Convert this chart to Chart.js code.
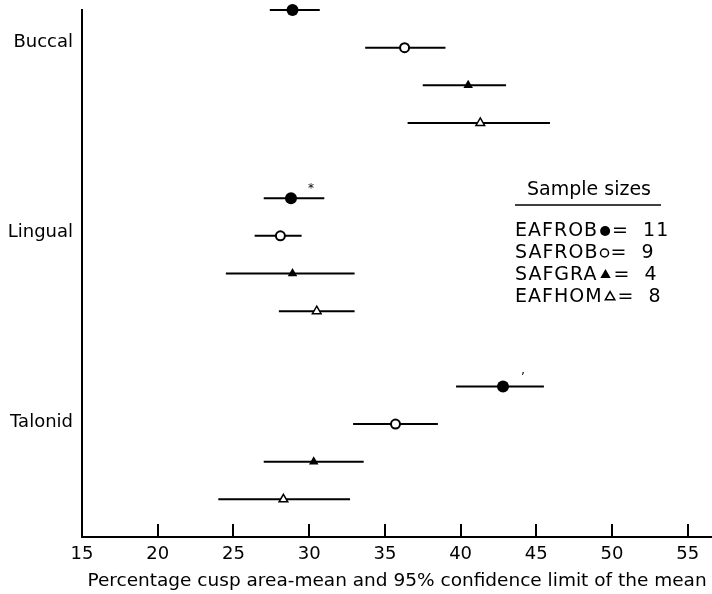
<!DOCTYPE html>
<html>
<head>
<meta charset="utf-8">
<title>Cusp area</title>
<script src="https://cdn.jsdelivr.net/npm/chart.js@4.4.1/dist/chart.umd.min.js"></script>
<style>
    html, body { margin: 0; padding: 0; background: #fff; }
    #cusp-chart { display: block; }
</style>
</head>
<body>
<canvas id="cusp-chart" width="712" height="594"></canvas>
<script>
var categories = ['Buccal', 'Lingual', 'Talonid'];
var seriesNames = ['EAFROB', 'SAFROB', 'SAFGRA', 'EAFHOM'];
var sampleSizes = [11, 9, 4, 8];
var xTicks = [15, 20, 25, 30, 35, 40, 45, 50, 55];

// mean and 95% limits, one value per category (Buccal, Lingual, Talonid)
var eafrobMean = [28.9, 28.8, 42.8];
var eafrobLow  = [27.4, 27.0, 39.7];
var eafrobHigh = [30.7, 31.0, 45.5];

var safrobMean = [36.3, 28.1, 35.7];
var safrobLow  = [33.7, 26.4, 32.9];
var safrobHigh = [39.0, 29.5, 38.5];

var safgraMean = [40.5, 28.9, 30.3];
var safgraLow  = [37.5, 24.5, 27.0];
var safgraHigh = [43.0, 33.0, 33.6];

var eafhomMean = [41.3, 30.5, 28.3];
var eafhomLow  = [36.5, 28.0, 24.0];
var eafhomHigh = [45.9, 33.0, 32.7];

// significance marks next to a mean: [series, category, glyph]
var starred = [[0, 1, '*'], [0, 2, '\u2019']];

var FONT = 'DejaVu Sans';
var INK = '#000';

var means = [eafrobMean, safrobMean, safgraMean, eafhomMean];
var lows = [eafrobLow, safrobLow, safgraLow, eafhomLow];
var highs = [eafrobHigh, safrobHigh, safgraHigh, eafhomHigh];

// marker look for each series, in plot and in the key
var markers = [
    { pointStyle: 'circle',   radius: 6,   fill: INK,    borderWidth: 0,   keyRadius: 5,   keyBorder: 0 },
    { pointStyle: 'circle',   radius: 4.5, fill: '#fff', borderWidth: 2,   keyRadius: 4,   keyBorder: 1 },
    { pointStyle: 'triangle', radius: 5.5, fill: INK,    borderWidth: 0,   keyRadius: 6,   keyBorder: 0 },
    { pointStyle: 'triangle', radius: 5,   fill: '#fff', borderWidth: 1.5, keyRadius: 5.5, keyBorder: 1 }
];

/**
 * Row position of a series inside a category block (one blank row between blocks)
 */
function rowOf(series, cat) {
    return cat * 5 + series;
}

/**
 * Drop the half-label padding Chart.js reserves round an axis
 */
function noEdgePadding(scale) {
    scale.paddingTop = 0;
    scale.paddingBottom = 0;
    scale.paddingLeft = 0;
    scale.paddingRight = 0;
}

var datasets = [];

seriesNames.forEach(function (name, s) {
    var m = markers[s];
    datasets.push({
        label: name,
        order: 0,
        clip: false,
        data: means[s].map(function (v, c) { return { x: v, y: rowOf(s, c) }; }),
        pointStyle: m.pointStyle,
        pointRadius: m.radius,
        pointBackgroundColor: m.fill,
        pointBorderColor: INK,
        pointBorderWidth: m.borderWidth,
        showLine: false
    });

    // confidence interval bars
    categories.forEach(function (cat, c) {
        datasets.push({
            type: 'line',
            label: name + ' ' + cat,
            order: 1,
            clip: false,
            data: [{ x: lows[s][c], y: rowOf(s, c) }, { x: highs[s][c], y: rowOf(s, c) }],
            borderColor: INK,
            borderWidth: 2,
            pointRadius: 0,
            fill: false
        });
    });
});

/**
 * Inward tick marks, significance marks and the sample size key
 */
var overlay = {
    id: 'overlay',
    afterDraw: function (chart) {
        var ctx = chart.ctx;
        var x = chart.scales.x;
        var y = chart.scales.y;

        ctx.save();
        ctx.strokeStyle = INK;
        ctx.lineWidth = 2;
        xTicks.forEach(function (v) {
            if (v === x.min) return;
            var px = Math.round(x.getPixelForValue(v));
            ctx.beginPath();
            ctx.moveTo(px, y.bottom);
            ctx.lineTo(px, y.bottom - 13);
            ctx.stroke();
        });

        ctx.fillStyle = INK;
        ctx.textAlign = 'center';
        ctx.textBaseline = 'middle';
        ctx.font = '12px "' + FONT + '"';
        starred.forEach(function (st) {
            var px = x.getPixelForValue(means[st[0]][st[1]]);
            var py = y.getPixelForValue(rowOf(st[0], st[1]));
            ctx.fillText(st[2], px + 20, py - 9);
        });

        // key
        var left = chart.chartArea.right - 197;
        var top = 190;
        ctx.font = '19px "' + FONT + '"';
        ctx.fillText('Sample sizes', left + 74, top);
        ctx.lineWidth = 1.5;
        ctx.beginPath();
        ctx.moveTo(left, top + 15);
        ctx.lineTo(left + 146, top + 15);
        ctx.stroke();

        ctx.textAlign = 'left';
        ctx.letterSpacing = '1px';
        seriesNames.forEach(function (name, s) {
            var ry = top + 41 + s * 22;
            var m = markers[s];
            ctx.fillStyle = INK;
            ctx.fillText(name, left, ry);
            var sx = left + ctx.measureText(name).width + m.keyRadius + 2;
            ctx.fillStyle = m.fill;
            ctx.strokeStyle = INK;
            Chart.helpers.drawPoint(ctx, {
                pointStyle: m.pointStyle,
                radius: m.keyRadius,
                rotation: 0,
                borderWidth: m.keyBorder
            }, sx, ry);
            ctx.fillStyle = INK;
            ctx.fillText('=  ' + sampleSizes[s], sx + m.keyRadius + 2, ry);
        });
        ctx.restore();
    }
};

new Chart(document.getElementById('cusp-chart').getContext('2d'), {
    type: 'scatter',
    data: { datasets: datasets },
    options: {
        responsive: false,
        animation: false,
        devicePixelRatio: 1,
        layout: { autoPadding: false, padding: { top: 10, left: 0, right: 0, bottom: 0 } },
        plugins: {
            legend: { display: false },
            tooltip: { enabled: false }
        },
        scales: {
            x: {
                type: 'linear',
                min: 15,
                max: 56.6,
                afterBuildTicks: function (scale) {
                    scale.ticks = xTicks.map(function (v) { return { value: v }; });
                },
                afterFit: function (scale) {
                    scale.height = 57;
                    noEdgePadding(scale);
                },
                grid: { drawOnChartArea: false, drawTicks: false },
                border: { color: INK, width: 2 },
                ticks: { color: INK, padding: 7, font: { family: FONT, size: 18 } },
                title: {
                    display: true,
                    text: 'Percentage cusp area-mean and 95% confidence limit of the mean',
                    color: INK,
                    font: { family: FONT, size: 18.5 },
                    padding: { top: 0, bottom: 2 }
                }
            },
            y: {
                type: 'linear',
                min: 0,
                max: 14,
                reverse: true,
                afterBuildTicks: function (scale) {
                    scale.ticks = categories.map(function (c, i) { return { value: i * 5 + 0.85 + i * 0.05 }; });
                },
                afterFit: function (scale) {
                    scale.width = 82;
                    noEdgePadding(scale);
                },
                grid: { drawOnChartArea: false, drawTicks: false },
                border: { color: INK, width: 2 },
                ticks: {
                    color: INK,
                    padding: 9,
                    font: { family: FONT, size: 18 },
                    callback: function (value, index) { return categories[index]; }
                }
            }
        }
    },
    plugins: [overlay]
});
</script>
</body>
</html>
